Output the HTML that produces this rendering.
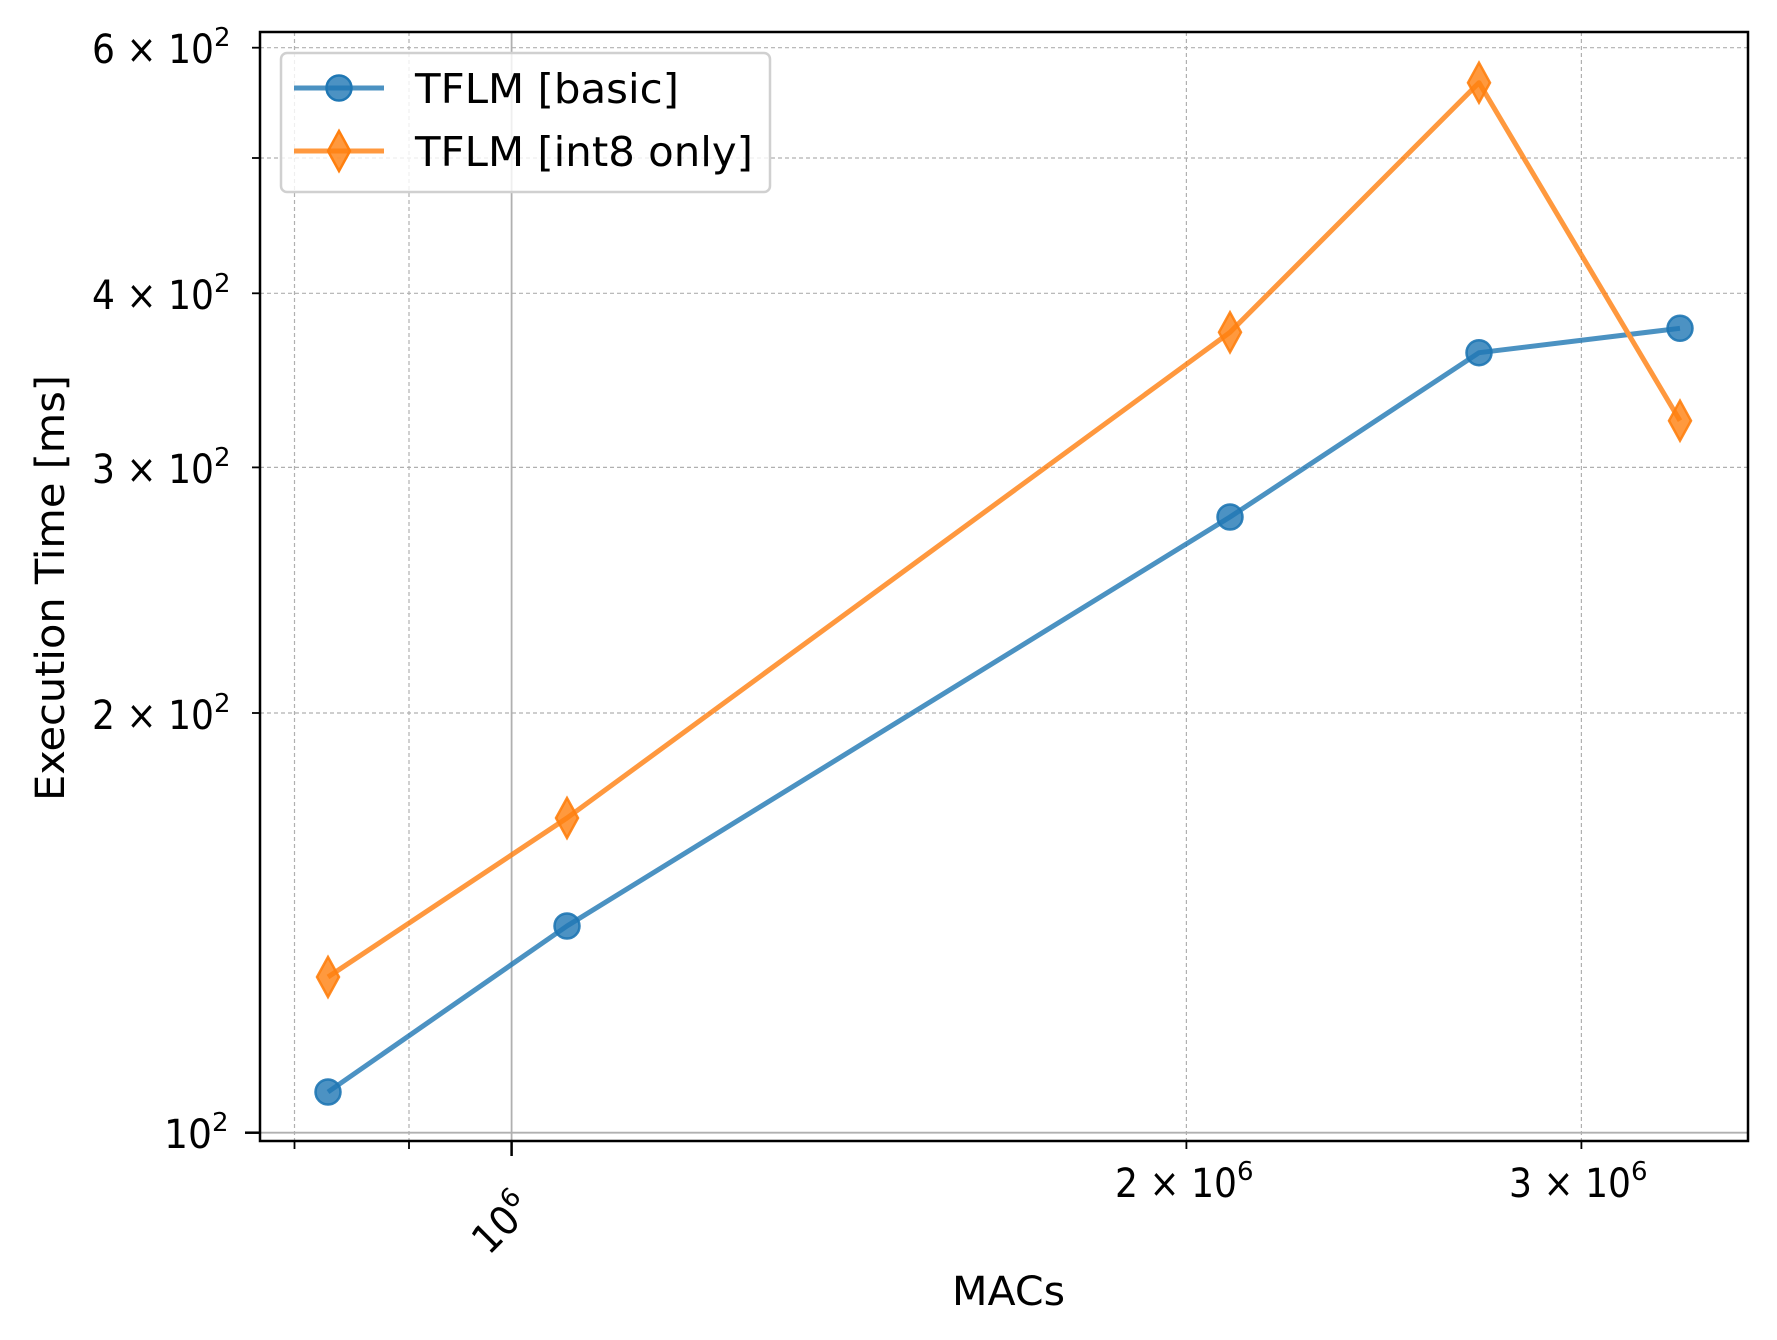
<!DOCTYPE html>
<html><head><meta charset="utf-8"><style>html,body{margin:0;padding:0;background:#fff}svg{display:block}</style></head>
<body>
<svg width="1777" height="1340" viewBox="0 0 1777 1340" xmlns="http://www.w3.org/2000/svg" font-family="DejaVu Sans, Liberation Sans, sans-serif">
<rect width="1777" height="1340" fill="#fff"/>
<g stroke="#b0b0b0" stroke-width="1.2" stroke-dasharray="4,3" fill="none">
<line x1="294.5" y1="32" x2="294.5" y2="1141"/>
<line x1="409" y1="32" x2="409" y2="1141"/>
<line x1="1186.4" y1="32" x2="1186.4" y2="1141"/>
<line x1="1581.4" y1="32" x2="1581.4" y2="1141"/>
<line x1="260" y1="713" x2="1748" y2="713"/>
<line x1="260" y1="467.4" x2="1748" y2="467.4"/>
<line x1="260" y1="293.3" x2="1748" y2="293.3"/>
<line x1="260" y1="158" x2="1748" y2="158"/>
<line x1="260" y1="47.7" x2="1748" y2="47.7"/>
</g>
<g stroke="#b0b0b0" stroke-width="1.8">
<line x1="511.6" y1="32" x2="511.6" y2="1141"/>
<line x1="260" y1="1132.7" x2="1748" y2="1132.7"/>
</g>
<g stroke-width="5" stroke-linejoin="round" fill="none" opacity="0.8">
<polyline stroke="#1f77b4" points="328,1092 567,926 1230,517 1479,352.7 1680,328.3"/>
<polyline stroke="#ff7f0e" points="328,977 567,818 1230,332.3 1479,82.7 1680,420.7"/>
</g>
<g fill="#1f77b4" stroke="#1f77b4" stroke-width="2.5" fill-opacity="0.8" stroke-opacity="0.9">
<circle cx="328" cy="1092" r="12.5"/><circle cx="567" cy="926" r="12.5"/><circle cx="1230" cy="517" r="12.5"/><circle cx="1479" cy="352.7" r="12.5"/><circle cx="1680" cy="328.3" r="12.5"/>
</g>
<g fill="#ff7f0e" stroke="#ff7f0e" stroke-width="2.5" fill-opacity="0.8" stroke-opacity="0.9">
<path d="M328,957 l11,20 l-11,20 l-11,-20z"/>
<path d="M567,798 l11,20 l-11,20 l-11,-20z"/>
<path d="M1230,312.3 l11,20 l-11,20 l-11,-20z"/>
<path d="M1479,62.7 l11,20 l-11,20 l-11,-20z"/>
<path d="M1680,400.7 l11,20 l-11,20 l-11,-20z"/>
</g>
<rect x="260" y="32" width="1488" height="1109" fill="none" stroke="#000" stroke-width="2.5"/>
<g stroke="#000" stroke-width="2.5">
<line x1="511.6" y1="1141" x2="511.6" y2="1156"/>
<line x1="245" y1="1132.7" x2="260" y2="1132.7"/>
</g>
<g stroke="#000" stroke-width="1.8">
<line x1="294.5" y1="1141" x2="294.5" y2="1149"/>
<line x1="409" y1="1141" x2="409" y2="1149"/>
<line x1="1186.4" y1="1141" x2="1186.4" y2="1149"/>
<line x1="1581.4" y1="1141" x2="1581.4" y2="1149"/>
<line x1="252" y1="713" x2="260" y2="713"/>
<line x1="252" y1="467.4" x2="260" y2="467.4"/>
<line x1="252" y1="293.3" x2="260" y2="293.3"/>
<line x1="252" y1="158" x2="260" y2="158"/>
<line x1="252" y1="47.7" x2="260" y2="47.7"/>
</g>
<g font-size="40" fill="#000">
<text x="92" y="63" textLength="122" lengthAdjust="spacingAndGlyphs">6 × 10</text><text x="214" y="46" font-size="26">2</text>
<text x="92" y="309" textLength="122" lengthAdjust="spacingAndGlyphs">4 × 10</text><text x="214" y="292" font-size="26">2</text>
<text x="92" y="483" textLength="122" lengthAdjust="spacingAndGlyphs">3 × 10</text><text x="214" y="466" font-size="26">2</text>
<text x="92" y="729" textLength="122" lengthAdjust="spacingAndGlyphs">2 × 10</text><text x="214" y="712" font-size="26">2</text>
<text x="164" y="1148" textLength="48" lengthAdjust="spacingAndGlyphs">10</text><text x="212" y="1131" font-size="26">2</text>
</g>
<g font-size="40" fill="#000">
<text x="1115" y="1197" textLength="122" lengthAdjust="spacingAndGlyphs">2 × 10</text><text x="1237" y="1180" font-size="26">6</text>
<text x="1509" y="1197" textLength="122" lengthAdjust="spacingAndGlyphs">3 × 10</text><text x="1631" y="1180" font-size="26">6</text>
<g transform="translate(500,1225) rotate(-45)"><text x="-30" y="14" textLength="48" lengthAdjust="spacingAndGlyphs">10</text><text x="18" y="-3" font-size="26">6</text></g>
</g>
<text x="952" y="1305" font-size="40" textLength="113" lengthAdjust="spacingAndGlyphs">MACs</text>
<text transform="translate(64,588) rotate(-90)" font-size="40" text-anchor="middle" textLength="426" lengthAdjust="spacingAndGlyphs">Execution Time [ms]</text>
<rect x="281" y="53" width="489" height="139" rx="6" fill="#fff" fill-opacity="0.8" stroke="#d0d0d0" stroke-width="2.5"/>
<line x1="294" y1="88" x2="384" y2="88" stroke="#1f77b4" stroke-width="5" opacity="0.8"/>
<circle cx="339" cy="88" r="12.5" fill="#1f77b4" fill-opacity="0.8" stroke="#1f77b4" stroke-width="2.5"/>
<line x1="294" y1="151" x2="384" y2="151" stroke="#ff7f0e" stroke-width="5" opacity="0.8"/>
<path d="M339,131 l11,20 l-11,20 l-11,-20z" fill="#ff7f0e" fill-opacity="0.8" stroke="#ff7f0e" stroke-width="2.5"/>
<text x="415" y="103" font-size="41" textLength="264" lengthAdjust="spacingAndGlyphs">TFLM [basic]</text>
<text x="415" y="166" font-size="41" textLength="338" lengthAdjust="spacingAndGlyphs">TFLM [int8 only]</text>
</svg>
</body></html>
